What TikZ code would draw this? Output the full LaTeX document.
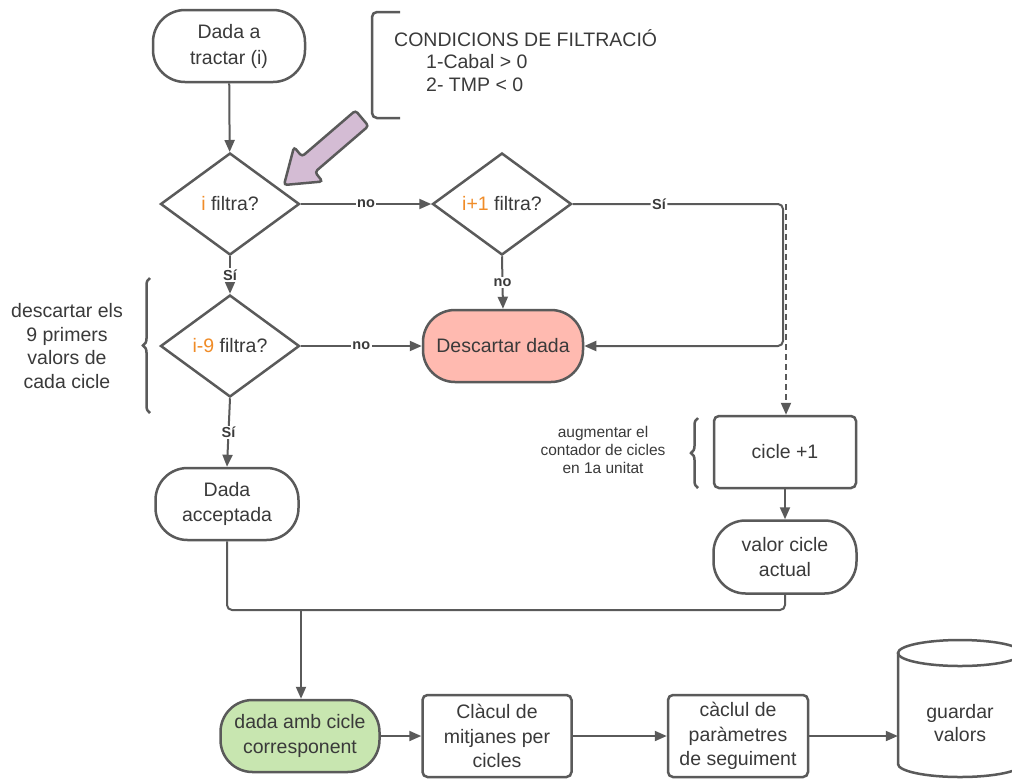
\documentclass[tikz,border=0pt]{standalone}
\usepackage{fontspec}
\setmainfont{Liberation Sans}
\usetikzlibrary{arrows.meta,shapes.geometric,decorations.pathreplacing,calc}
\definecolor{ln}{HTML}{5A5A5A}
\definecolor{tx}{HTML}{3A3A3A}
\definecolor{org}{HTML}{F08C28}
\definecolor{salmon}{HTML}{FFBAB0}
\definecolor{grn}{HTML}{C8E6B0}
\definecolor{purp}{HTML}{D4BCD4}
\tikzset{
  base/.style={draw=ln, line width=2.5pt, text=tx, align=center, inner sep=0pt,
    font=\fontsize{19.5}{24.5}\selectfont},
  term/.style={base, rectangle, rounded corners=32pt},
  boxr/.style={base, rectangle, rounded corners=5pt},
  dia/.style={base, diamond, minimum width=139pt, minimum height=102pt},
  arr/.style={draw=ln, line width=2pt, -{Triangle[length=12pt,width=10pt]}},
  con/.style={draw=ln, line width=2pt},
  lbl/.style={fill=white, text=tx, inner sep=1.5pt, font=\bfseries\fontsize{14.5}{16}\selectfont},
  plain/.style={text=tx, align=center, inner sep=0pt, font=\fontsize{19.5}{23.5}\selectfont},
  small/.style={text=tx, align=center, inner sep=0pt, font=\fontsize{15.5}{18}\selectfont},
  brc/.style={draw=ln, line width=2.5pt, decorate, decoration={brace, amplitude=7pt}}
}
\begin{document}
\begin{tikzpicture}[x=1pt,y=-1pt]
\useasboundingbox (0,0) rectangle (1012,780);
\clip (0,0) rectangle (1012,780);
\fill[white] (0,0) rectangle (1012,780);

% nodes
\node[term, minimum width=152pt, minimum height=72pt, font=\fontsize{19.5}{26}\selectfont] (start) at (229,46) {Dada a\\tractar (i)};
\node[dia] (d1) at (230,204) {\textcolor{org}{i} filtra?};
\node[dia] (d2) at (502,204) {\textcolor{org}{i+1} filtra?};
\node[dia] (d3) at (230,346) {\textcolor{org}{i-9} filtra?};
\node[term, fill=salmon, minimum width=160pt, minimum height=72pt] (disc) at (503,346) {Descartar dada};
\node[term, minimum width=143pt, minimum height=72pt] (acc) at (227,504) {Dada\\acceptada};
\node[boxr, minimum width=142pt, minimum height=72pt] (cic) at (785,452) {cicle +1};
\node[term, minimum width=143pt, minimum height=73pt] (val) at (785,557) {valor cicle\\actual};
\node[term, fill=grn, minimum width=159pt, minimum height=72pt] (dac) at (300,736) {dada amb cicle\\corresponent};
\node[boxr, minimum width=149pt, minimum height=82pt] (cal) at (497,736) {Clàcul de\\mitjanes per\\cicles};
\node[boxr, minimum width=140pt, minimum height=82pt] (par) at (738,736) {càclul de\\paràmetres\\de seguiment};
% cylinder
\draw[ln, line width=2.5pt, fill=white] (898,653) -- (898,764) arc[start angle=180, end angle=360, x radius=62pt, y radius=13pt] -- (1022,653);
\draw[ln, line width=2.5pt] (960,653) ellipse[x radius=62pt, y radius=13pt];
\node[plain, minimum width=124pt, minimum height=100pt] (cyl) at (960,723) {guardar\\valors};

% annotations
\node[plain, anchor=west] (cond) at (394,38) {CONDICIONS DE FILTRACIÓ};
\node[plain, anchor=west] (c1) at (426,62) {1-Cabal > 0};
\node[plain, anchor=west] (c2) at (426,85) {2- TMP < 0};
\draw[ln, line width=2.5pt, rounded corners=5pt] (400,12) -- (372,12) -- (372,118) -- (400,118);

\node[plain] (desc) at (67,346) {descartar els\\9 primers\\valors de\\cada cicle};
\draw[brc] (150,413) -- (150,278);

\node[small] (aug) at (603,450) {augmentar el\\contador de cicles\\en 1a unitat};
\draw[brc] (698,488) -- (698,418);

% purple arrow
\draw[ln, line width=2.5pt, fill=purp, rounded corners=3pt]
  (284,185) -- (322.5,181.5) -- (315,172) -- (368.5,126) -- (355.5,110.5)
  -- (302,156.5) -- (294,147) -- cycle;

% connectors
\draw[arr] (start) -- (d1);
\draw[arr] (d1.east) -- node[lbl]{no} (d2.west);
\draw[arr] (d1.south) -- node[lbl]{Sí} (d3.north);
\draw[arr] (d2.south) -- node[lbl]{no} (disc.north);
\draw[arr] (d3.east) -- node[lbl]{no} (disc.west);
\coordinate (sc) at (783,204);
\coordinate (ds) at (786,204);
\draw[arr, rounded corners=5pt] (d2.east) -- node[lbl, pos=0.41]{Sí} (sc) |- (disc.east);
\draw[arr, dash pattern=on 6pt off 4pt] (ds) -- (ds |- cic.north);
\draw[arr] (d3.south) -- node[lbl]{Sí} (acc.north);
\draw[arr] (cic) -- (val);
\coordinate (jl) at (227,610);
\coordinate (jm) at (301,610);
\draw[con, rounded corners=5pt] (acc.south) -- (acc.south |- jl) -- (val.south |- jl) -- (val.south);
\draw[arr] (jm) -- (jm |- dac.north);
\draw[arr] (dac.east) -- (dac.east -| cal.west);
\draw[arr] (cal.east) -- (par.west);
\draw[arr] (par.east) -- (par.east -| cyl.west);
\end{tikzpicture}
\end{document}
